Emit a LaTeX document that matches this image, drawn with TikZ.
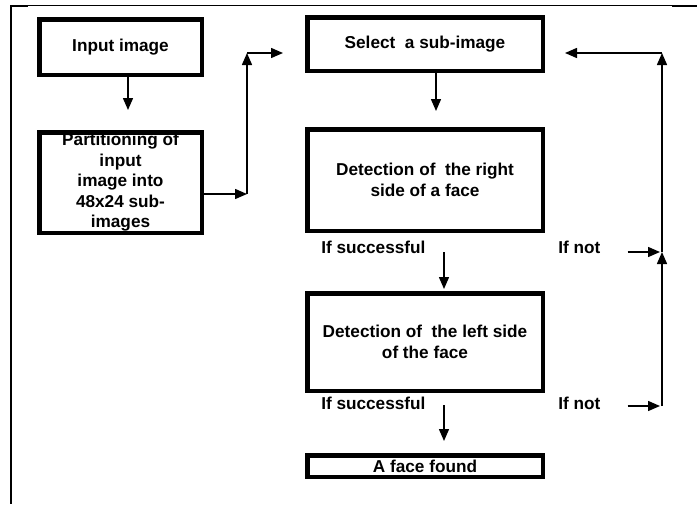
\documentclass[tikz,border=0pt]{standalone}
\usepackage{fontspec}
\setmainfont{Liberation Sans}
\usetikzlibrary{arrows.meta}
\begin{document}
\begin{tikzpicture}[x=1pt,y=-1pt,
        every node/.style={draw,line width=4.5pt,align=center,inner sep=0pt,font=\bfseries\fontsize{17.2}{20.5}\selectfont},
        lbl/.style={draw=none,font=\bfseries\fontsize{17.2}{20}\selectfont},
        arr/.style={-{Triangle[length=12pt,width=10pt]},line width=1.5pt}]
        \useasboundingbox (0,0) rectangle (697,504);
        \draw[line width=1.3pt] (11,5.5) -- (697,5.5);
        \draw[line width=2.5pt] (11,5) -- (11,504);
        \draw[line width=2.5pt] (11,6) -- (28,6);
        \draw[line width=2.5pt] (672,6) -- (697,6);

        \node[minimum width=162.5pt,minimum height=55.5pt] at (120.5,47) (inimg) {Input image};
        \node[minimum width=162.5pt,minimum height=100.5pt] at (120.5,182.5) (part) {Partitioning of\\input\\image into\\48x24 sub-\\images};
        \node[minimum width=235.5pt,minimum height=53.5pt] at (425,44) (select) {Select~ a sub-image};
        \node[minimum width=235.5pt,minimum height=101.5pt] at (425,180) (rdet) {Detection of~ the right\\side of a face};
        \node[minimum width=235.5pt,minimum height=97.5pt] at (425,342) (ldet) {Detection of~ the left side\\of the face};
        \node[minimum width=235.5pt,minimum height=21.5pt] at (425,466) (found) {A face found};

        \node[lbl,anchor=west] at (319,247) (ok1) {If successful};
        \node[lbl,anchor=west] at (556,247) (no1) {If not};
        \node[lbl,anchor=west] at (319,403) (ok2) {If successful};
        \node[lbl,anchor=west] at (556,403) (no2) {If not};

        \coordinate (j1) at (247,194);
        \coordinate (j2) at (247,53);
        \coordinate (r1) at (662,252);
        \coordinate (r2) at (662,406);
        \coordinate (r3) at (662,53);

        \draw[arr,shorten >=20pt] ([xshift=7.5pt]inimg.south) -- ([xshift=7.5pt]inimg.south |- part.north);
        \draw[arr] ([yshift=-11.5pt]part.east) -- (j1);
        \draw[arr] (j1) -- (j2);
        \draw[arr,shorten >=22pt] (j2) -- (j2 -| select.west);
        \draw[arr,shorten >=16pt] ([xshift=11pt]select.south) -- ([xshift=11pt]select.south |- rdet.north);
        \draw[arr,shorten <=19pt,shorten >=2pt] ([xshift=19pt]rdet.south) -- ([xshift=19pt]rdet.south |- ldet.north);
        \draw[arr,shorten <=12pt,shorten >=12pt] ([xshift=19pt]ldet.south) -- ([xshift=19pt]ldet.south |- found.north);
        \draw[arr,shorten <=25pt,shorten >=2pt] ([yshift=-5pt]no1.east) -- ([yshift=-5pt]no1.east -| r1);
        \draw[arr,shorten <=25pt,shorten >=2pt] ([yshift=-3pt]no2.east) -- ([yshift=-3pt]no2.east -| r2);
        \draw[arr] (r2) -- (r1);
        \draw[arr] (r1) -- (r3);
        \draw[arr,shorten >=20pt] (r3) -- (r3 -| select.east);
    \end{tikzpicture}
\end{document}
